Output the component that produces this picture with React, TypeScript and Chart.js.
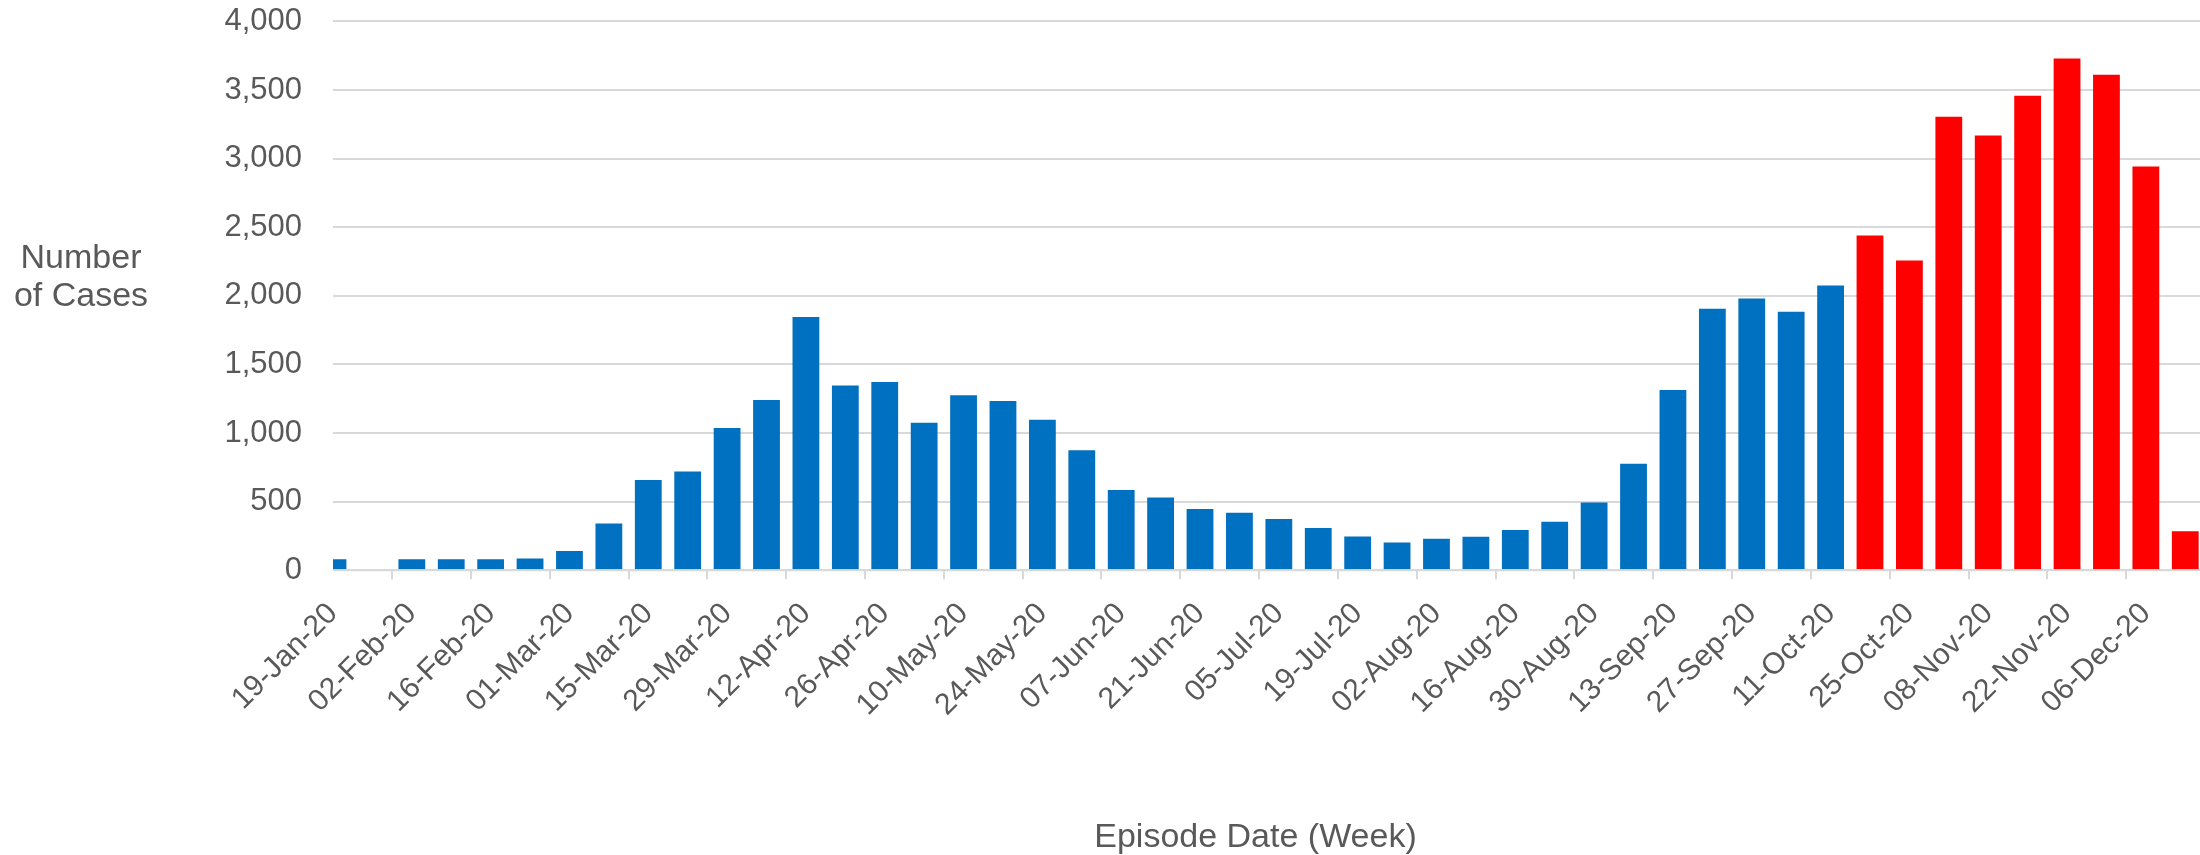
import React, { useEffect, useRef } from "react";
import { Chart, registerables } from "chart.js";

Chart.register(...registerables);

// Week-starting dates (categories)
const weekLabels = [
  "19-Jan-20", "26-Jan-20", "02-Feb-20", "09-Feb-20", "16-Feb-20", "23-Feb-20",
  "01-Mar-20", "08-Mar-20", "15-Mar-20", "22-Mar-20", "29-Mar-20", "05-Apr-20",
  "12-Apr-20", "19-Apr-20", "26-Apr-20", "03-May-20", "10-May-20", "17-May-20",
  "24-May-20", "31-May-20", "07-Jun-20", "14-Jun-20", "21-Jun-20", "28-Jun-20",
  "05-Jul-20", "12-Jul-20", "19-Jul-20", "26-Jul-20", "02-Aug-20", "09-Aug-20",
  "16-Aug-20", "23-Aug-20", "30-Aug-20", "06-Sep-20", "13-Sep-20", "20-Sep-20",
  "27-Sep-20", "04-Oct-20", "11-Oct-20", "18-Oct-20", "25-Oct-20", "01-Nov-20",
  "08-Nov-20", "15-Nov-20", "22-Nov-20", "29-Nov-20", "06-Dec-20", "13-Dec-20",
];

// Weekly case counts, 19-Jan-20 .. 11-Oct-20 (blue)
const blueCases = [
  80, 0, 80, 80, 80, 85, 140, 340, 658, 720, 1037, 1241, 1846, 1347, 1372, 1074,
  1275, 1233, 1096, 875, 585, 530, 446, 418, 374, 307, 245, 201, 229, 243, 293,
  354, 494, 775, 1313, 1905, 1980, 1883, 2075,
];

// Weekly case counts, 18-Oct-20 .. 13-Dec-20 (red)
const redCases = [2440, 2257, 3305, 3168, 3458, 3729, 3612, 2942, 284];

const yTickValues = [0, 500, 1000, 1500, 2000, 2500, 3000, 3500, 4000];
const yTitleLines = ["Number", "of Cases"];
const xTitle = "Episode Date (Week)";

const FONT = "'Liberation Sans', Arial, Helvetica, sans-serif";
const TEXT = "#595959";
const GRID = "#d9d9d9";
const BLUE = "#0070C0";
const RED = "#FF0000";

// layout (pixels)
const CANVAS_W = 2340;
const CANVAS_H = 855;
const PLOT_LEFT = 333;
const PLOT_TOP = 21.4;
const PLOT_BOTTOM = 570.2;
const SLOT = 39.41;

export default function App() {
  const canvasRef = useRef<HTMLCanvasElement | null>(null);

  useEffect(() => {
    const canvas = canvasRef.current;
    if (!canvas) return;

    // one trailing empty slot so the plot runs past the right edge of the picture
    const labels = [...weekLabels, ""];
    const n = weekLabels.length;
    const plotRight = PLOT_LEFT + SLOT * (labels.length - 1);
    const blueData = labels.map((_, i) => (i < blueCases.length ? blueCases[i] : null));
    const redData = labels.map((_, i) =>
      i >= blueCases.length && i < n ? redCases[i - blueCases.length] : null
    );

    const overlay = {
      id: "overlay",
      afterDatasetsDraw(chart: any) {
        const { ctx, chartArea, scales } = chart;
        const y0 = scales.y.getPixelForValue(0);
        ctx.save();
        ctx.strokeStyle = GRID;
        ctx.lineWidth = 2;
        ctx.beginPath();
        ctx.moveTo(chartArea.left, y0);
        ctx.lineTo(chartArea.right, y0);
        ctx.stroke();
        ctx.restore();
      },
      afterDraw(chart: any) {
        const { ctx } = chart;
        ctx.save();
        ctx.fillStyle = TEXT;
        ctx.textAlign = "center";
        ctx.textBaseline = "alphabetic";
        ctx.font = `34px ${FONT}`;
        ctx.fillText(yTitleLines[0], 81, 268);
        ctx.fillText(yTitleLines[1], 81, 306);
        ctx.fillText(xTitle, 1255.5, 846.5);
        ctx.restore();
      },
    };

    const chart = new Chart(canvas, {
      type: "bar",
      data: {
        labels,
        datasets: [
          {
            label: "Cases",
            data: blueData,
            backgroundColor: BLUE,
            borderWidth: 0,
            grouped: false,
            clip: 0,
            categoryPercentage: 1,
            barPercentage: 0.68,
          } as any,
          {
            label: "Recent cases",
            data: redData,
            backgroundColor: RED,
            borderWidth: 0,
            grouped: false,
            clip: 0,
            categoryPercentage: 1,
            barPercentage: 0.68,
          } as any,
        ],
      },
      options: {
        animation: false,
        responsive: false,
        maintainAspectRatio: false,
        devicePixelRatio: 1,
        layout: {
          padding: { top: PLOT_TOP, right: CANVAS_W - plotRight, bottom: 0, left: 0 },
        },
        plugins: {
          legend: { display: false },
          tooltip: { enabled: false },
          title: { display: false },
        },
        scales: {
          x: {
            offset: false,
            border: { display: false },
            grid: {
              drawOnChartArea: false,
              drawTicks: true,
              tickLength: 9,
              lineWidth: 2,
              tickColor: (c: any) => (c.index % 2 === 0 ? GRID : "rgba(0,0,0,0)"),
            },
            ticks: {
              autoSkip: false,
              minRotation: 45,
              maxRotation: 45,
              padding: 17,
              color: TEXT,
              font: { family: FONT, size: 30 },
              callback: (_v: any, i: number) => (i % 2 === 0 && i < n ? weekLabels[i] : ""),
            },
            afterFit: (scale: any) => {
              scale.height = CANVAS_H - PLOT_BOTTOM;
            },
          },
          y: {
            min: 0,
            max: 4000,
            border: { display: false },
            grid: {
              color: GRID,
              lineWidth: 2,
              drawTicks: true,
              tickLength: 30,
              tickColor: "rgba(0,0,0,0)",
            },
            afterBuildTicks: (scale: any) => {
              scale.ticks = yTickValues.map((v) => ({ value: v }));
            },
            ticks: {
              padding: 1,
              color: TEXT,
              font: { family: FONT, size: 31 },
              callback: (v: any) => Number(v).toLocaleString("en-US"),
            },
            afterFit: (scale: any) => {
              scale.width = PLOT_LEFT;
            },
          },
        },
      },
      plugins: [overlay],
    });

    return () => chart.destroy();
  }, []);

  return (
    <div
      style={{
        position: "fixed",
        left: 0,
        top: 0,
        width: 2200,
        height: 855,
        overflow: "hidden",
        background: "#ffffff",
      }}
    >
      <canvas
        ref={canvasRef}
        width={CANVAS_W}
        height={CANVAS_H}
        style={{ display: "block" }}
      />
    </div>
  );
}
